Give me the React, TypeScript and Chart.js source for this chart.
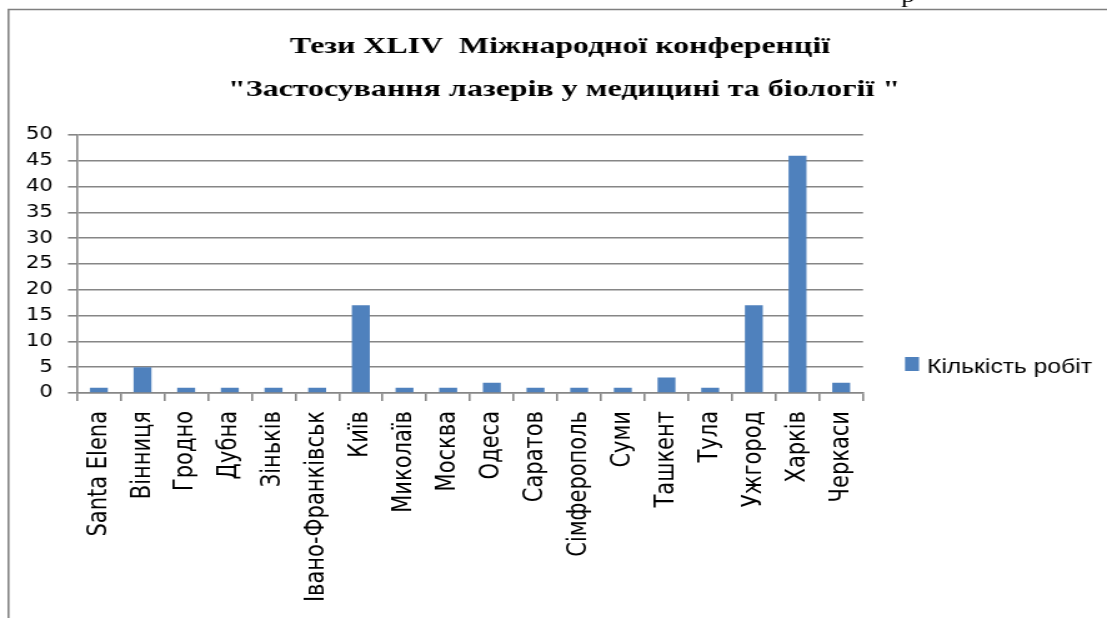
import React, { useEffect, useRef } from "react";
import { Chart, registerables } from "chart.js";

Chart.register(...registerables);

// ---- data ----
const categories = [
  "Santa Elena",
  "Вінниця",
  "Гродно",
  "Дубна",
  "Зіньків",
  "Івано-Франківськ",
  "Київ",
  "Миколаїв",
  "Москва",
  "Одеса",
  "Саратов",
  "Сімферополь",
  "Суми",
  "Ташкент",
  "Тула",
  "Ужгород",
  "Харків",
  "Черкаси",
];
const counts = [1, 5, 1, 1, 1, 1, 17, 1, 1, 2, 1, 1, 1, 3, 1, 17, 46, 2];
const yTicks = [0, 5, 10, 15, 20, 25, 30, 35, 40, 45, 50];
const seriesName = "Кількість робіт";
const titleLines = [
  "Тези XLIV  Міжнародної конференції",
  "\"Застосування лазерів у медицині та біології \"",
];

// ---- layout ----
const W = 1107;
const H = 618;
const IW = 886; // internal canvas width, stretched horizontally to W
const S = W / IW;
const X = (v: number) => v / S;

const BAR = "#4F81BD";
const GRID = "#868686";

function fitText(
  ctx: CanvasRenderingContext2D,
  text: string,
  x: number,
  y: number,
  targetW: number,
  align: CanvasTextAlign
) {
  ctx.textAlign = "left";
  const w = ctx.measureText(text).width;
  const k = targetW / w;
  ctx.save();
  let left = x;
  if (align === "center") left = x - targetW / 2;
  ctx.translate(left, y);
  ctx.scale(k, 1);
  ctx.textBaseline = "alphabetic";
  ctx.fillText(text, 0, 0);
  ctx.restore();
}

const deco = {
  id: "deco",
  beforeDraw(chart: any) {
    const ctx = chart.ctx as CanvasRenderingContext2D;
    ctx.save();
    ctx.fillStyle = "#ffffff";
    ctx.fillRect(0, 0, chart.width, chart.height);
    ctx.strokeStyle = "#7f7f7f";
    ctx.lineWidth = 1.5;
    ctx.beginPath();
    ctx.moveTo(X(8.5), H);
    ctx.lineTo(X(8.5), 9.5);
    ctx.lineTo(chart.width, 9.5);
    ctx.stroke();
    // cut-off glyph of the page text above the frame
    ctx.fillStyle = "#000";
    ctx.font = "22px 'Liberation Serif'";
    ctx.textBaseline = "alphabetic";
    ctx.textAlign = "left";
    ctx.fillText("р", X(901), 2);
    ctx.restore();
  },
  afterDraw(chart: any) {
    const ctx = chart.ctx as CanvasRenderingContext2D;
    ctx.save();
    ctx.fillStyle = "#000";
    ctx.font = "bold 24px 'Liberation Serif'";
    fitText(ctx, titleLines[0], X(560), 53, X(540), "center");
    fitText(ctx, titleLines[1], X(564), 96, X(672), "center");
    // legend
    ctx.fillStyle = BAR;
    ctx.fillRect(X(905), 357, X(14), 14);
    ctx.fillStyle = "#000";
    ctx.font = "21px 'Liberation Sans'";
    fitText(ctx, seriesName, X(927), 373, X(165), "left");
    ctx.restore();
  },
};

export default function App() {
  const ref = useRef<HTMLCanvasElement | null>(null);

  useEffect(() => {
    const canvas = ref.current;
    if (!canvas) return;
    const chart = new Chart(canvas, {
      type: "bar",
      data: {
        labels: categories,
        datasets: [
          {
            label: seriesName,
            data: counts,
            backgroundColor: BAR,
            borderWidth: 0,
            barPercentage: 0.41,
            categoryPercentage: 1,
          },
        ],
      },
      options: {
        responsive: false,
        animation: false,
        devicePixelRatio: 1,
        layout: {
          padding: { top: 135, right: IW - X(863), bottom: 0, left: 0 },
        },
        plugins: {
          legend: { display: false },
          title: { display: false },
          tooltip: { enabled: false },
        },
        scales: {
          x: {
            offset: true,
            grid: {
              drawOnChartArea: false,
              drawTicks: true,
              tickLength: 8,
              color: GRID,
              lineWidth: 1.6,
              offset: true,
            },
            border: { color: GRID, width: 1.6 },
            ticks: {
              autoSkip: false,
              minRotation: 90,
              maxRotation: 90,
              padding: 10,
              color: "#000",
              font: { family: "'DejaVu Sans'", size: 21 },
            },
            afterFit: (s: any) => {
              s.height = H - 393;
            },
          },
          y: {
            min: 0,
            max: 50,
            afterBuildTicks: (s: any) => {
              s.ticks = yTicks.map((v) => ({ value: v }));
            },
            grid: {
              color: GRID,
              lineWidth: 1.6,
              drawTicks: true,
              tickLength: X(9),
            },
            border: { color: GRID, width: 1.6 },
            ticks: {
              padding: X(15),
              color: "#000",
              font: { family: "'DejaVu Sans'", size: 17 },
            },
            afterFit: (s: any) => {
              s.width = X(77);
            },
          },
        },
      },
      plugins: [deco],
    });
    return () => chart.destroy();
  }, []);

  return (
    <div
      style={{
        position: "fixed",
        left: 0,
        top: 0,
        width: W,
        height: H,
        background: "#fff",
      }}
    >
      <canvas
        ref={ref}
        width={IW}
        height={H}
        style={{ width: W + "px", height: H + "px", display: "block" }}
      />
    </div>
  );
}
